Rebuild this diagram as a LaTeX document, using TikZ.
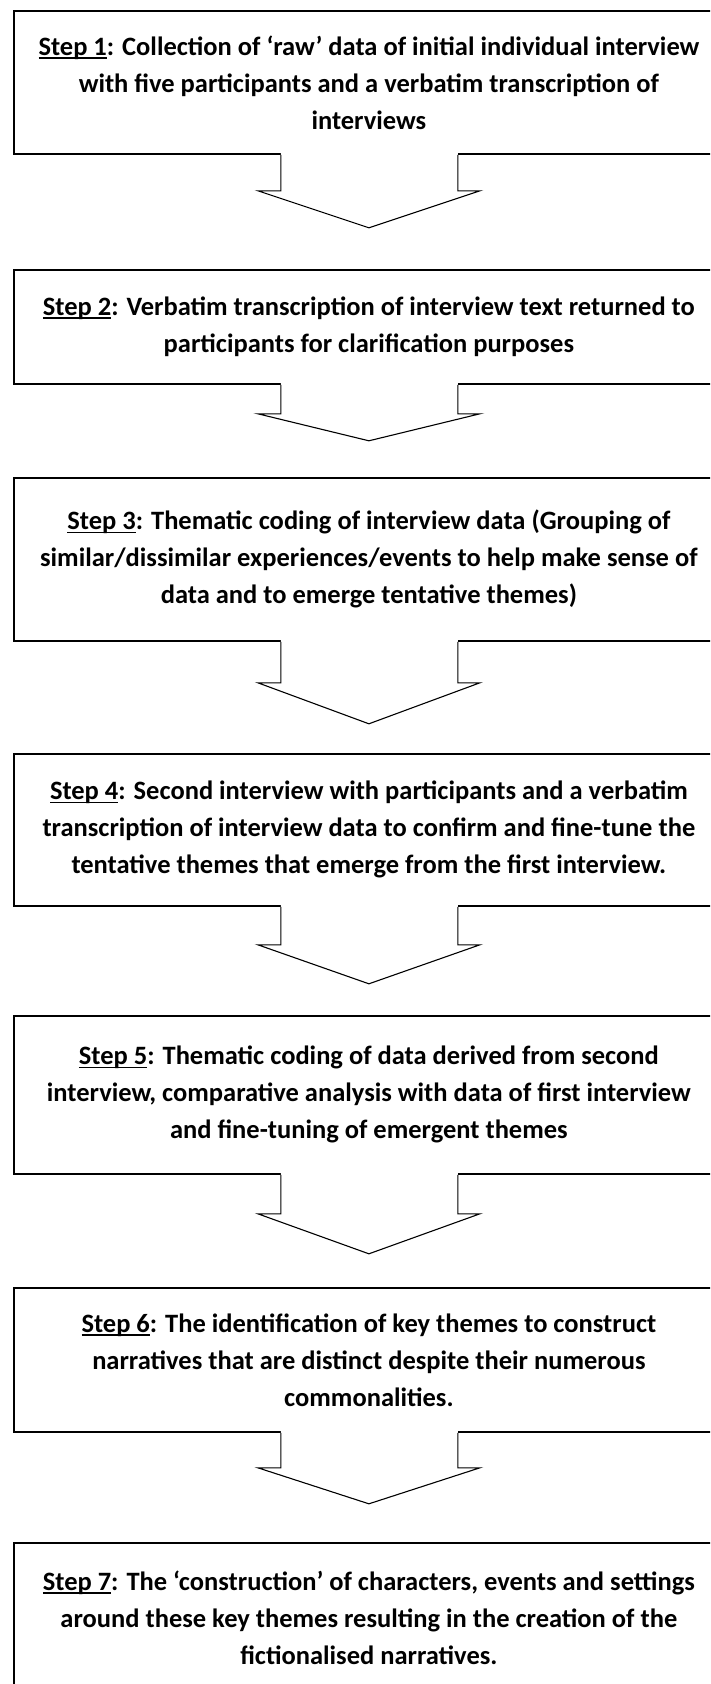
\documentclass[tikz,border=0pt]{standalone}
\usepackage{fontspec}
\setmainfont{Carlito}
\usetikzlibrary{calc}
\newcommand{\stepul}[1]{\setbox0\hbox{#1}\rlap{\rule[-0.13em]{\wd0}{0.065em}}\box0}
\tikzset{
  stepbox/.style={draw=black, line width=1.8pt, fill=white, minimum width=710pt,
    inner sep=0pt, align=center, anchor=north west,
    font=\bfseries\fontsize{26.5}{37}\selectfont},
  arrowline/.style={draw=black, line width=1.1pt, line join=miter}
}
\newcommand{\blockarr}[3]{%
  \fill[white] ($(#1.south)+(-88,-3)$) -- ($(#1.south)+(-88,#2)$) -- ($(#1.south)+(-111,#2)$)
     -- ($(#1.south)+(0,#2+#3)$) -- ($(#1.south)+(111,#2)$) -- ($(#1.south)+(89,#2)$)
     -- ($(#1.south)+(89,-3)$) -- cycle;
  \draw[arrowline] ($(#1.south)+(-88,0)$) -- ($(#1.south)+(-88,#2)$) -- ($(#1.south)+(-111,#2)$)
     -- ($(#1.south)+(0,#2+#3)$) -- ($(#1.south)+(111,#2)$) -- ($(#1.south)+(89,#2)$)
     -- ($(#1.south)+(89,0)$);
}
\begin{document}
\begin{tikzpicture}[x=1pt, y=-1pt]
\path[use as bounding box] (0,0) rectangle (710,1684);
\clip (0,0) rectangle (710,1684);
\fill[white] (0,0) rectangle (710,1684);

\node[stepbox, minimum height=143pt] (b1) at (13,10)
  {\stepul{Step 1}: Collection of ‘raw’ data of initial individual interview\\
   with five participants and a verbatim transcription of\\ interviews};
\node[stepbox, minimum height=114pt] (b2) at (13,269)
  {\stepul{Step 2}: Verbatim transcription of interview text returned to\\
   participants for clarification purposes};
\node[stepbox, minimum height=163pt] (b3) at (13,477)
  {\stepul{Step 3}: Thematic coding of interview data (Grouping of\\
   similar/dissimilar experiences/events to help make sense of\\
   data and to emerge tentative themes)};
\node[stepbox, minimum height=152pt] (b4) at (13,753)
  {\stepul{Step 4}: Second interview with participants and a verbatim\\
   transcription of interview data to confirm and fine-tune the\\
   tentative themes that emerge from the first interview.};
\node[stepbox, minimum height=158pt] (b5) at (13,1015)
  {\stepul{Step 5}: Thematic coding of data derived from second\\
   interview, comparative analysis with data of first interview\\
   and fine-tuning of emergent themes};
\node[stepbox, minimum height=144pt] (b6) at (13,1287)
  {\stepul{Step 6}: The identification of key themes to construct\\
   narratives that are distinct despite their numerous\\
   commonalities.};
\node[stepbox, minimum height=150pt] (b7) at (13,1542)
  {\stepul{Step 7}: The ‘construction’ of characters, events and settings\\
   around these key themes resulting in the creation of the\\
   fictionalised narratives.};

\blockarr{b1}{36}{37}
\blockarr{b2}{29}{27}
\blockarr{b3}{41}{41}
\blockarr{b4}{38}{39}
\blockarr{b5}{39}{40}
\blockarr{b6}{35}{36}
\end{tikzpicture}
\end{document}
